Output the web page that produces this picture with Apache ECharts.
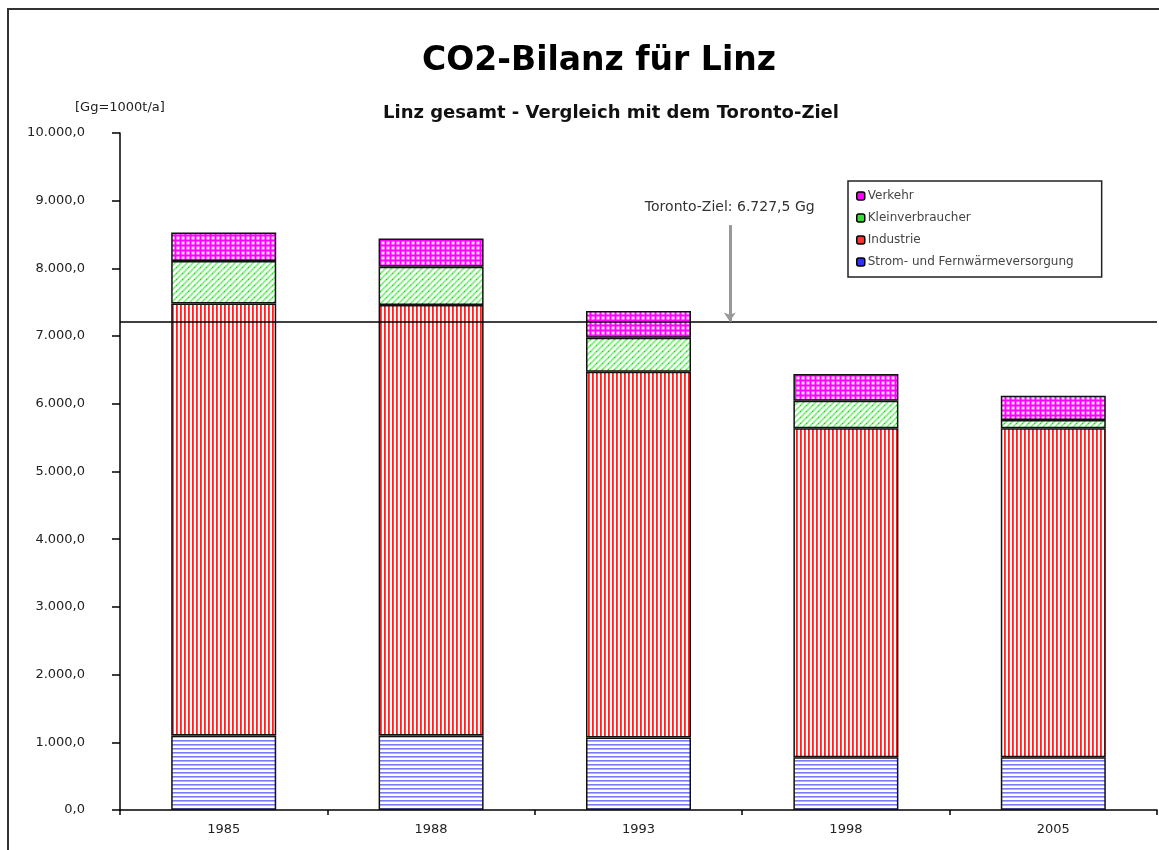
<!DOCTYPE html>
<html>
<head>
<meta charset="utf-8">
<script src="https://cdn.jsdelivr.net/npm/echarts@6/dist/echarts.min.js"></script>
<style>
  html, body { margin: 0; padding: 0; background: #fff; }
  #co2chart { width: 1159px; height: 850px; }
</style>
</head>
<body>
<div id="co2chart"></div>
<script>
// Jahre
var years = ["1985", "1988", "1993", "1998", "2005"];
// Gg CO2 je Sektor (gestapelt, von unten nach oben)
var strom = [1100, 1100, 1070, 780, 780];
var industrie = [6380, 6360, 5405, 4860, 4860];
var kleinverbraucher = [630, 565, 500, 405, 120];
var verkehr = [420, 415, 395, 395, 360];
// Toronto-Ziel: Linie so wie im Bild eingezeichnet, Text laut Beschriftung
var torontoLine = 7215;
var torontoText = "Toronto-Ziel: 6.727,5 Gg";
// Pfeil zur Linie (Position auf versteckter Werte-Achse 0..5)
var arrowX = 2.94;
var arrowTop = 8640;
var yTicks = { min: 0, max: 10000, step: 1000 };

var FONT = "DejaVu Sans";

function makePattern(kind) {
  var c = document.createElement("canvas");
  var ctx = c.getContext("2d");
  if (kind === "h") {
    c.width = 4; c.height = 4;
    ctx.fillStyle = "#fff"; ctx.fillRect(0, 0, 4, 4);
    ctx.fillStyle = "#7a7aff"; ctx.fillRect(0, 0, 4, 1.6);
  } else if (kind === "v") {
    c.width = 4; c.height = 4;
    ctx.fillStyle = "#fff"; ctx.fillRect(0, 0, 4, 4);
    ctx.fillStyle = "#ff2020"; ctx.fillRect(0, 0, 1.8, 4);
  } else if (kind === "d") {
    c.width = 6; c.height = 6;
    ctx.fillStyle = "#fff"; ctx.fillRect(0, 0, 6, 6);
    ctx.strokeStyle = "#7ef07e"; ctx.lineWidth = 1.6;
    ctx.beginPath();
    ctx.moveTo(-1, 7); ctx.lineTo(7, -1);
    ctx.moveTo(-1, 1); ctx.lineTo(1, -1);
    ctx.moveTo(5, 7); ctx.lineTo(7, 5);
    ctx.stroke();
    ctx.fillStyle = "#11dd11"; ctx.fillRect(2, 3, 1, 1);
  } else {
    c.width = 5; c.height = 5;
    ctx.fillStyle = "#ff00ff"; ctx.fillRect(0, 0, 5, 5);
    ctx.fillStyle = "#ffd8ff"; ctx.fillRect(1.5, 1.5, 3, 3);
  }
  return { image: c, repeat: "repeat" };
}

function fmtDe(v) {
  var s = String(Math.round(v)).replace(/\B(?=(\d{3})+(?!\d))/g, ".");
  return s + ",0";
}

var chartDom = document.getElementById("co2chart");
var myChart = echarts.init(chartDom);

var barStyle = function (kind) {
  return { color: makePattern(kind), borderColor: "#111", borderWidth: 1.5 };
};

var option = {
  backgroundColor: "#fff",
  animation: false,
  textStyle: { fontFamily: FONT },
  title: [
    {
      text: "CO2-Bilanz für Linz",
      left: 594, textAlign: "center", top: 40,
      textStyle: { fontSize: 33, fontWeight: "bold", color: "#000", fontFamily: FONT }
    },
    {
      text: "Linz gesamt - Vergleich mit dem Toronto-Ziel",
      left: 606, textAlign: "center", top: 99,
      textStyle: { fontSize: 18, fontWeight: "bold", color: "#111", fontFamily: FONT }
    },
    {
      text: "[Gg=1000t/a]",
      left: 70, top: 96,
      textStyle: { fontSize: 13, fontWeight: "normal", color: "#222", fontFamily: FONT }
    }
  ],
  legend: {
    orient: "vertical",
    left: 848, top: 181,
    padding: [9, 28, 9, 8],
    borderColor: "#222", borderWidth: 1.5,
    itemWidth: 8, itemHeight: 8, itemGap: 10,
    textStyle: { fontSize: 12, color: "#444", fontFamily: FONT, padding: [0, 0, 0, -2] },
    data: [
      { name: "Verkehr", itemStyle: { color: "#ff00ff", borderColor: "#000", borderWidth: 1.5 } },
      { name: "Kleinverbraucher", itemStyle: { color: "#33dd33", borderColor: "#000", borderWidth: 1.5 } },
      { name: "Industrie", itemStyle: { color: "#ff3030", borderColor: "#000", borderWidth: 1.5 } },
      { name: "Strom- und Fernwärmeversorgung", itemStyle: { color: "#3030ff", borderColor: "#000", borderWidth: 1.5 } }
    ]
  },
  grid: { left: 120, right: 2, top: 133, bottom: 40, containLabel: false },
  xAxis: [
    {
      type: "category",
      data: years,
      axisLine: { lineStyle: { color: "#000", width: 1.5 } },
      axisTick: { show: true, length: 5, interval: 0, lineStyle: { color: "#000", width: 1.5 } },
      axisLabel: { color: "#222", fontSize: 13, margin: 13, fontFamily: FONT }
    },
    { type: "value", min: 0, max: 5, show: false }
  ],
  yAxis: {
    type: "value",
    min: yTicks.min, max: yTicks.max, interval: yTicks.step,
    splitLine: { show: false },
    axisLine: { show: true, lineStyle: { color: "#000", width: 1.5 } },
    axisTick: { show: true, length: 8, lineStyle: { color: "#000", width: 1.5 } },
    axisLabel: { color: "#222", fontSize: 13, margin: 35, formatter: fmtDe, fontFamily: FONT }
  },
  series: [
    { name: "Strom- und Fernwärmeversorgung", type: "bar", stack: "co2", barWidth: 105, data: strom, itemStyle: barStyle("h") },
    { name: "Industrie", type: "bar", stack: "co2", data: industrie, itemStyle: barStyle("v") },
    { name: "Kleinverbraucher", type: "bar", stack: "co2", data: kleinverbraucher, itemStyle: barStyle("d") },
    { name: "Verkehr", type: "bar", stack: "co2", data: verkehr, itemStyle: barStyle("g") },
    {
      name: "Toronto",
      type: "line",
      xAxisIndex: 1,
      data: [],
      z: 10,
      markLine: {
        silent: true,
        animation: false,
        symbol: ["none", "none"],
        data: [
          {
            yAxis: torontoLine,
            lineStyle: { color: "#000", width: 1.5, type: "solid" },
            label: { show: false }
          },
          [
            {
              coord: [arrowX, arrowTop],
              symbol: "none",
              lineStyle: { color: "#999", width: 3, type: "solid" },
              label: {
                show: true, position: "start", formatter: torontoText,
                color: "#333", fontSize: 14, distance: 11, fontFamily: FONT
              }
            },
            { coord: [arrowX, torontoLine], symbol: "arrow", symbolSize: [9, 9] }
          ]
        ]
      }
    }
  ],
  graphic: [
    {
      type: "rect",
      shape: { x: 8, y: 9, width: 1200, height: 900 },
      style: { fill: null, stroke: "#333", lineWidth: 2 },
      silent: true
    }
  ]
};

option && myChart.setOption(option);
</script>
</body>
</html>
